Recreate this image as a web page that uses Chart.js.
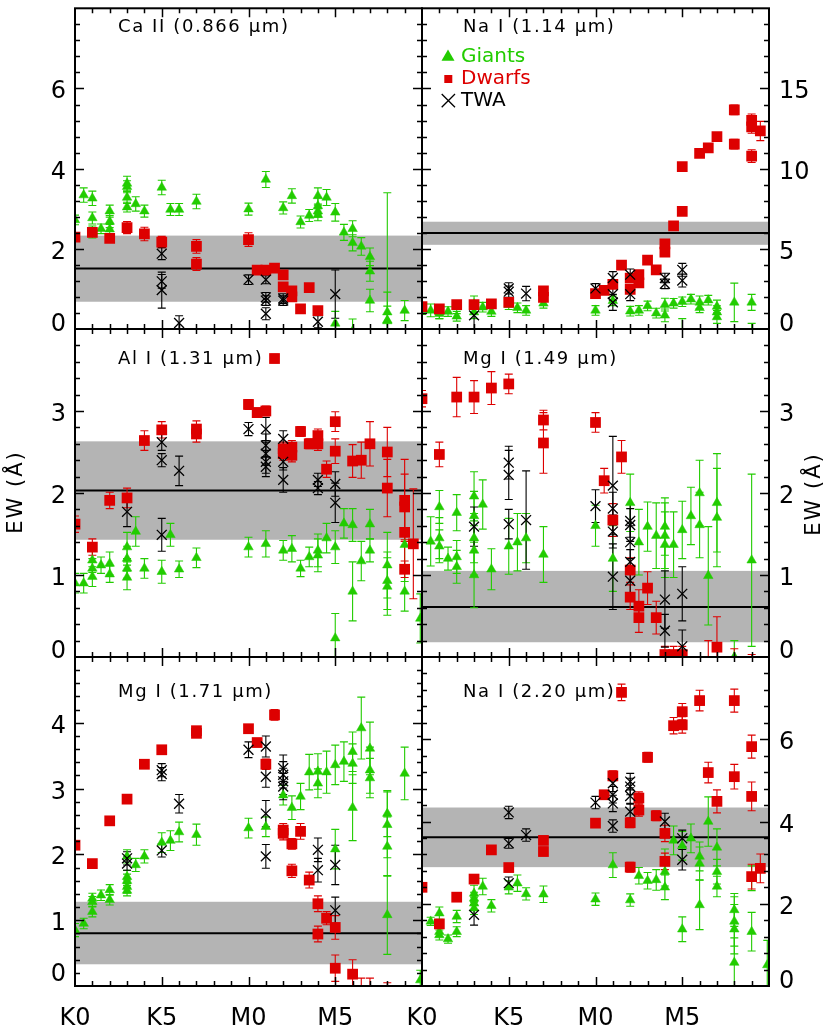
<!DOCTYPE html>
<html><head><meta charset="utf-8">
<script src="https://cdn.jsdelivr.net/npm/chart.js@4/dist/chart.umd.min.js"></script>
<style>
html,body{margin:0;padding:0;background:#fff}
#wrap{position:relative;width:830px;height:1026px;overflow:hidden}
#wrap canvas{position:absolute;left:0;top:0}
</style>
</head><body>
<div id="wrap"></div>
<script>
// ---------- data: [spectral type index (K0=0, K5=5, M0=10, M5=15), EW (Å), error] ----------
const xTickValues = [0, 5, 10, 15];
const xTickLabels = ['K0', 'K5', 'M0', 'M5'];

// Ca II 0.866
const caGiants = [[0,2.72,0.12],[0.5,3.34,0.18],[1,3.26,0.18],[1,2.77,0.15],[1,2.42,0.15],[1.5,2.5,0.12],[2,2.94,0.15],[2,2.68,0.15],[2,2.49,0.12],[3,3.63,0.18],[3,3.55,0.15],[3,3.28,0.15],[3,3.04,0.12],[3.5,3.12,0.18],[4,2.94,0.15],[5,3.53,0.18],[5.5,2.98,0.15],[6,2.98,0.15],[7,3.18,0.18],[10,2.99,0.15],[11,3.73,0.2],[12,3.02,0.15],[12.5,3.32,0.18],[13,2.67,0.15],[13.5,2.83,0.15],[14,3.32,0.2],[14,3.07,0.2],[14,2.94,0.15],[14,2.85,0.15],[14.5,3.28,0.2],[15,2.91,0.22],[15.5,2.41,0.2],[16,2.5,0.2],[16,2.15,0.2],[16.5,2.06,0.22],[17,1.8,0.22],[17,1.44,0.25],[17,0.71,0.28],[15,0.14,0.3],[16,-0.05,0.3],[18,0.42,0.5],[18,0.22,0.35],[18,0.2,3.2],[19,0.46,0.25]];
const caDwarfs = [[0,2.29,0.1],[1,2.41,0.1],[2,2.26,0.1],[3,2.53,0.15],[4,2.37,0.17],[5,2.17,0.14],[7,2.06,0.17],[7,1.62,0.16],[10,2.23,0.17],[10.5,1.47,0.1],[11,1.47,0.1],[11.5,1.52,0.1],[12,1.35,0.1],[12,1.05,0.1],[12.5,0.95,0.1],[12.5,0.8,0.1],[13,0.5,0.1],[13.5,1.03,0.08],[14,0.46,0.1]];
const caTWA = [[5,1.88,0.15],[5,1.19,0.17],[5,0.97,0.45],[6,0.15,0.18],[10,1.23,0.12],[11,1.23,0.1],[11,0.79,0.12],[11,0.71,0.12],[11,0.38,0.15],[12,0.76,0.12],[12,0.71,0.12],[14,0.18,0.15],[15,0.87,0.6]];
const caBand = [0.68, 1.51, 2.33];

// Na I 1.14
const na1Giants = [[0,1.2,0.3],[0.5,1.16,0.4],[1,1.05,0.4],[1,0.95,0.3],[1.5,1.09,0.3],[2,1.36,0.4],[2,0.79,0.3],[3,1.56,0.5],[3,1.05,0.4],[3.5,1.36,0.3],[4,1.09,0.3],[5,1.52,0.3],[5.5,1.32,0.3],[6,1.16,0.3],[7,1.6,0.3],[10,1.16,0.3],[11,1.76,0.3],[12,1.11,0.3],[12.5,1.16,0.3],[13,1.44,0.3],[13.5,0.99,0.3],[14,1.52,0.4],[14,0.85,0.4],[14.5,1.6,0.3],[15,1.7,0.3],[15.5,1.86,0.3],[16,1.66,0.4],[16,1.32,0.3],[16.5,1.8,0.3],[17,1.4,0.4],[17,1.05,0.4],[17,0.75,0.4],[18,1.66,1.2],[19,1.66,0.5],[15,-0.4,1.05],[19,-0.3,0.65]];
const na1Dwarfs = [[0,1.4,0.2],[1,1.26,0.2],[2,1.52,0.2],[3,1.52,0.2],[4,1.56,0.2],[5,1.66,0.2],[7,2.37,0.25],[7,1.97,0.25],[10,2.21,0.2],[10.5,2.41,0.2],[11,2.78,0.25],[11.5,3.99,0.2],[12,3.18,0.2],[12,2.47,0.2],[12.5,3.39,0.2],[12.5,2.88,0.2],[13,4.3,0.2],[13.5,3.69,0.2],[14,5.31,0.25],[14,4.8,0.25],[14.5,6.43,0.2],[15,7.34,0.2],[15,10.12,0.2],[16,10.95,0.25],[16.5,11.29,0.25],[17,12.0,0.25],[18,13.66,0.3],[18,11.53,0.3],[19,13.01,0.4],[19,12.61,0.4],[19,10.78,0.4],[19.5,12.35,0.6]];
const na1TWA = [[3,0.85,0.9],[5,2.53,0.35],[5,2.33,0.35],[6,2.21,0.45],[10,2.53,0.3],[11,3.18,0.4],[11,2.17,0.4],[11,1.66,0.5],[12,3.39,0.35],[12,2.17,0.4],[14,3.18,0.3],[14,2.82,0.3],[15,3.69,0.4],[15,3.02,0.4]];
const na1Band = [5.25, 5.98, 6.69];

// Al I 1.31
const alGiants = [[0,0.9,0.12],[0.5,0.9,0.12],[1,1.18,0.15],[1,1.08,0.12],[1,0.98,0.12],[1.5,1.12,0.1],[2,1.14,0.14],[2,1.01,0.1],[3,1.34,0.18],[3,1.2,0.15],[3,1.08,0.12],[3,0.97,0.15],[3.5,1.53,0.18],[4,1.08,0.12],[5,1.04,0.14],[5.5,1.49,0.14],[6,1.07,0.1],[7,1.21,0.12],[10,1.34,0.12],[11,1.38,0.16],[12,1.3,0.12],[12.5,1.32,0.16],[13,1.08,0.1],[13.5,1.22,0.12],[14,1.3,0.2],[14,1.24,0.2],[14.5,1.45,0.18],[15,1.34,0.2],[15,0.23,0.3],[15.5,1.63,0.18],[16,1.61,0.2],[16,0.8,0.36],[16.5,1.17,0.24],[17,1.62,0.18],[17,1.3,0.14],[18,1.12,0.4],[18,0.93,0.35],[18,0.86,0.35],[19,1.37,0.45],[19,0.8,0.24],[19.9,0.47,0.3]];
const alDwarfs = [[0,1.62,0.1],[1,1.34,0.1],[2,1.91,0.1],[3,1.94,0.12],[4,2.64,0.12],[5,2.77,0.1],[7,2.78,0.1],[7,2.72,0.1],[10,3.08,0.06],[10.5,2.98,0.06],[11,3.0,0.06],[11.5,3.64,0.05],[12,2.54,0.08],[12,2.48,0.08],[12.5,2.56,0.08],[12.5,2.46,0.08],[13,2.75,0.06],[13.5,2.6,0.06],[14,2.7,0.08],[14,2.6,0.08],[14.5,2.29,0.1],[15,2.87,0.12],[15,2.51,0.15],[16,2.39,0.2],[16.5,2.4,0.22],[17,2.6,0.27],[18,2.5,0.3],[18,2.06,0.35],[19,1.91,0.5],[19,1.83,0.4],[19,1.52,0.4],[19,1.07,0.1],[19.5,1.38,0.67]];
const alTWA = [[3,1.77,0.18],[5,2.62,0.1],[5,2.4,0.08],[5,1.49,0.2],[6,2.27,0.18],[10,2.78,0.08],[11,2.78,0.14],[11,2.58,0.14],[11,2.48,0.14],[11,2.38,0.14],[11,2.32,0.12],[12,2.66,0.1],[12,2.38,0.1],[12,2.16,0.15],[14,2.16,0.08],[14,2.06,0.08],[15,2.11,0.15],[15,1.88,0.24]];
const alBand = [1.43, 2.03, 2.63];

// Mg I 1.49
const mg1Giants = [[0.5,1.41,0.3],[1,1.83,0.2],[1,1.45,0.25],[1,1.35,0.2],[1.5,1.2,0.14],[2,1.76,0.22],[2,1.22,0.2],[2,1.1,0.2],[3,1.96,0.3],[3,1.72,0.3],[3,1.45,0.3],[3,1.3,0.3],[3,1.0,0.4],[3.5,1.86,0.3],[4,1.07,0.25],[5,1.35,0.34],[5.5,1.4,0.35],[6,1.45,0.3],[7,1.25,0.34],[10,1.6,0.25],[11,1.2,0.4],[12,1.88,0.35],[12.5,1.4,0.4],[13,1.59,0.3],[13.5,1.48,0.4],[14,1.59,0.35],[14,1.48,0.4],[14,1.37,0.4],[14.5,1.37,0.4],[15,1.55,0.35],[15.5,1.72,0.35],[16,2.0,0.4],[16,1.61,0.4],[16.5,0.99,0.6],[17,1.88,0.6],[17,1.7,0.6],[19,1.18,1.05],[18,0.0,0.2]];
const mg1Dwarfs = [[0,3.15,0.1],[1,2.47,0.15],[2,3.17,0.24],[3,3.17,0.2],[4,3.28,0.2],[5,3.33,0.12],[7,2.89,0.12],[7,2.61,0.37],[10,2.86,0.12],[10.5,2.15,0.15],[11,1.67,0.2],[11.5,2.44,0.2],[12,1.06,0.15],[12,0.73,0.15],[12.5,0.62,0.2],[12.5,0.48,0.18],[13,0.84,0.2],[13.5,0.48,0.2],[14,0.03,0.1],[14.5,0.03,0.1],[15,0.03,0.1],[17,0.12,0.37],[16.5,-0.1,0.3],[18,-0.1,0.2],[19,-0.1,0.13]];
const mg1TWA = [[3,1.59,0.24],[5,2.37,0.2],[5,2.22,0.3],[5,1.62,0.18],[6,1.67,0.6],[10,1.84,0.2],[11,2.09,0.6],[11,1.81,0.2],[11,1.53,0.2],[11,0.98,0.4],[12,1.66,0.2],[12,1.61,0.2],[12,1.4,0.2],[12,1.16,0.15],[12,0.93,0.15],[14,0.7,0.35],[14,0.32,0.2],[15,0.77,0.33],[15,0.13,0.2]];
const mg1Band = [0.18, 0.61, 1.05];

// Mg I 1.71
const mg2Giants = [[0,0.85,0.1],[0.5,0.95,0.08],[1,1.13,0.08],[1,1.28,0.08],[1,1.33,0.08],[1.5,1.38,0.08],[2,1.46,0.08],[2,1.31,0.08],[3,1.97,0.1],[3,1.66,0.1],[3,1.6,0.1],[3,1.51,0.1],[3,1.45,0.08],[3.5,1.84,0.1],[4,1.97,0.1],[5,2.18,0.15],[5.5,2.21,0.15],[6,2.34,0.15],[7,2.3,0.16],[10,2.4,0.15],[11,2.42,0.15],[12,2.9,0.15],[12.5,2.71,0.18],[13,2.88,0.2],[13.5,3.25,0.27],[14,3.26,0.27],[14,3.08,0.22],[14.5,3.25,0.32],[15,3.36,0.3],[15,2.08,0.3],[15.5,3.41,0.3],[16,3.56,0.3],[16,3.38,0.3],[16,2.71,0.5],[16.5,3.92,0.47],[17,3.61,0.4],[17,3.28,0.35],[17,3.16,0.3],[18,2.62,0.35],[18,2.45,0.5],[18,2.12,0.45],[18,1.08,0.6],[19,3.23,0.4],[19.9,0.09,0.15]];
const mg2Dwarfs = [[0,2.14,0.05],[1,1.86,0.05],[2,2.51,0.05],[3,2.84,0.05],[4,3.37,0.05],[5,3.59,0.05],[7,3.88,0.05],[7,3.84,0.05],[10,3.91,0.05],[10.5,3.7,0.06],[11,3.37,0.08],[11.5,4.12,0.08],[12,2.37,0.1],[12,2.32,0.1],[12.5,2.16,0.08],[12.5,1.75,0.1],[13,2.35,0.12],[13.5,1.61,0.12],[14,1.25,0.12],[14,0.79,0.12],[14.5,1.03,0.1],[15,0.89,0.18],[15,0.27,0.2],[16,0.18,0.22],[16.5,-0.1,0.22],[17,-0.1,0.22],[18,-0.2,0.25]];
const mg2TWA = [[3,1.94,0.1],[3,1.86,0.1],[5,3.28,0.1],[5,3.22,0.1],[5,2.06,0.1],[6,2.77,0.14],[10,3.59,0.12],[11,3.64,0.16],[11,3.18,0.16],[11,2.62,0.2],[11,1.97,0.18],[12,3.31,0.2],[12,3.21,0.2],[12,3.11,0.2],[12,3.03,0.2],[14,2.07,0.18],[14,1.76,0.18],[15,1.84,0.3],[15,1.15,0.2]];
const mg2Band = [0.33, 0.8, 1.28];

// Na I 2.20
const na2Giants = [[0.5,1.57,0.1],[1,1.77,0.15],[1,1.32,0.12],[1,1.24,0.12],[1.5,1.14,0.1],[2,1.69,0.15],[2,1.32,0.12],[3,2.25,0.2],[3,2.13,0.15],[3,2.01,0.15],[3,1.89,0.15],[3.5,2.42,0.2],[4,1.95,0.15],[5,2.4,0.16],[5.5,2.5,0.2],[6,2.24,0.15],[7,2.23,0.2],[10,2.11,0.15],[11,2.94,0.3],[12,2.09,0.15],[12.5,2.68,0.2],[13,2.56,0.2],[13.5,2.58,0.25],[14,3.03,0.3],[14,2.78,0.35],[14,2.4,0.3],[14.5,3.54,0.35],[15,3.41,0.35],[15,1.38,0.3],[15.5,3.59,0.35],[16,3.15,0.35],[16,2.98,0.4],[16,1.97,0.6],[16.5,4.0,0.6],[17,3.37,0.45],[17,2.78,0.3],[17,2.42,0.25],[18,1.85,0.4],[18,1.57,0.6],[18,1.38,0.6],[18,0.57,0.6],[19,2.62,0.3],[19,1.32,0.47],[19.9,0.51,0.6]];
const na2Dwarfs = [[0,2.4,0.1],[1,1.51,0.1],[2,2.16,0.1],[3,2.6,0.1],[4,3.31,0.1],[5,2.88,0.1],[7,3.54,0.1],[7,3.27,0.1],[10,3.96,0.1],[10.5,4.65,0.1],[11,5.11,0.12],[11.5,7.14,0.2],[12,3.97,0.12],[12,2.89,0.12],[12.5,4.57,0.15],[12.5,4.28,0.15],[13,5.56,0.12],[13.5,4.14,0.12],[14,3.71,0.2],[14,3.03,0.2],[14.5,6.33,0.2],[15,6.67,0.2],[15,6.35,0.2],[16,6.94,0.25],[16.5,5.19,0.25],[17,4.49,0.28],[18,6.94,0.28],[18,5.09,0.3],[19,5.82,0.28],[19,4.61,0.35],[19,2.66,0.3],[19.5,2.86,0.35]];
const na2TWA = [[3,1.73,0.25],[5,4.22,0.15],[5,3.47,0.12],[5,2.5,0.15],[6,3.67,0.15],[10,4.46,0.15],[11,4.93,0.2],[11,4.65,0.2],[11,4.44,0.2],[11,3.89,0.15],[12,4.97,0.2],[12,4.85,0.2],[12,4.62,0.2],[12,4.24,0.2],[14,4.0,0.2],[15,3.59,0.2],[15,3.07,0.25]];
const na2Band = [2.89, 3.62, 4.34];

// y tick labels per panel
const caYTicks = [0, 2, 4, 6];
const na1YTicks = [0, 5, 10, 15];
const alYTicks = [0, 1, 2, 3];
const mg1YTicks = [0, 1, 2, 3];
const mg2YTicks = [0, 1, 2, 3, 4];
const na2YTicks = [0, 2, 4, 6];

const legendLabels = ['Giants', 'Dwarfs', 'TWA'];
const yAxisTitle = 'EW (Å)';

// ---------- styling & layout ----------
const GREEN = '#22cc00', RED = '#dd0000', BLACK = '#000000', GRAY = '#b4b4b4';
const FONT = '"DejaVu Sans", sans-serif';
const W = 830, H = 1026;
const colX = [[75, 422], [422, 769]];
const rowY = [[1, 329], [329, 657], [657, 986]];
const titleX = [118, 463];
const titleBase = [32, 364, 697];

const panels = [
  {title:'Ca II (0.866 μm)', g:caGiants, d:caDwarfs, t:caTWA, band:caBand, col:0, row:0, ymax:8, minor:0.4, major:2, yt:caYTicks, zs:-8},
  {title:'Na I (1.14 μm)', g:na1Giants, d:na1Dwarfs, t:na1TWA, band:na1Band, col:1, row:0, ymax:20, minor:1, major:5, yt:na1YTicks, zs:-8, legend:true},
  {title:'Al I (1.31 μm)', g:alGiants, d:alDwarfs, t:alTWA, band:alBand, col:0, row:1, ymax:4, minor:0.2, major:1, yt:alYTicks, zs:-9},
  {title:'Mg I (1.49 μm)', g:mg1Giants, d:mg1Dwarfs, t:mg1TWA, band:mg1Band, col:1, row:1, ymax:4, minor:0.2, major:1, yt:mg1YTicks, zs:-9},
  {title:'Mg I (1.71 μm)', g:mg2Giants, d:mg2Dwarfs, t:mg2TWA, band:mg2Band, col:0, row:2, ymax:5, minor:0.2, major:1, yt:mg2YTicks, zs:-15},
  {title:'Na I (2.20 μm)', g:na2Giants, d:na2Dwarfs, t:na2TWA, band:na2Band, col:1, row:2, ymax:8, minor:0.4, major:2, yt:na2YTicks, zs:-8.5}
];

const toPts = arr => arr.map(p => ({x: p[0], y: p[1], e: p[2]}));

function drawTri(ctx, x, y, r) {
  ctx.beginPath();
  ctx.moveTo(x, y - r);
  ctx.lineTo(x + r * 0.866, y + r * 0.5);
  ctx.lineTo(x - r * 0.866, y + r * 0.5);
  ctx.closePath(); ctx.fill();
}

function makePanel(P, idx) {
  const cv = document.createElement('canvas');
  cv.width = W; cv.height = H;
  cv.style.width = W + 'px'; cv.style.height = H + 'px';
  document.getElementById('wrap').appendChild(cv);
  const [x0, x1] = colX[P.col];
  const [y0, y1] = rowY[P.row];

  const bandPlugin = {
    id: 'band' + idx,
    beforeDatasetsDraw(chart) {
      const {ctx, chartArea: a, scales: {y}} = chart;
      const lo = y.getPixelForValue(P.band[0]), mid = y.getPixelForValue(P.band[1]), hi = y.getPixelForValue(P.band[2]);
      ctx.save();
      ctx.fillStyle = GRAY;
      ctx.fillRect(a.left, hi, a.right - a.left, lo - hi);
      ctx.strokeStyle = BLACK; ctx.lineWidth = 2;
      ctx.beginPath(); ctx.moveTo(a.left, mid); ctx.lineTo(a.right, mid); ctx.stroke();
      ctx.restore();
    }
  };

  const errPlugin = {
    id: 'err' + idx,
    beforeDatasetsDraw(chart) {
      const {ctx, chartArea: a, scales: {x, y}} = chart;
      ctx.save();
      ctx.beginPath(); ctx.rect(a.left, a.top, a.right - a.left, a.bottom - a.top); ctx.clip();
      chart.data.datasets.slice().reverse().forEach(ds => {
        ctx.strokeStyle = ds.borderColor; ctx.lineWidth = 1.1;
        ds.data.forEach(p => {
          const px = x.getPixelForValue(p.x);
          const pa = y.getPixelForValue(p.y - p.e), pb = y.getPixelForValue(p.y + p.e);
          ctx.beginPath();
          ctx.moveTo(px, pa); ctx.lineTo(px, pb);
          ctx.moveTo(px - 4, pa); ctx.lineTo(px + 4, pa);
          ctx.moveTo(px - 4, pb); ctx.lineTo(px + 4, pb);
          ctx.stroke();
        });
      });
      ctx.restore();
    }
  };

  const axesPlugin = {
    id: 'axes' + idx,
    afterDraw(chart) {
      const {ctx, chartArea: a, scales: {x, y}} = chart;
      ctx.save();
      // ticks
      ctx.strokeStyle = BLACK; ctx.lineWidth = 1.5;
      ctx.beginPath();
      for (let i = 1; i < 20; i++) {
        const px = Math.round(x.getPixelForValue(i)) + 0.5;
        const len = (i % 5 === 0) ? 9 : 5;
        ctx.moveTo(px, a.bottom); ctx.lineTo(px, a.bottom - len);
        ctx.moveTo(px, a.top); ctx.lineTo(px, a.top + len);
      }
      const n = Math.round(P.ymax / P.minor);
      for (let i = 1; i < n; i++) {
        const v = i * P.minor;
        const py = Math.round(y.getPixelForValue(v)) + 0.5;
        const isMajor = Math.abs(v / P.major - Math.round(v / P.major)) < 1e-6;
        const len = isMajor ? 9 : 5;
        ctx.moveTo(a.left, py); ctx.lineTo(a.left + len, py);
        ctx.moveTo(a.right, py); ctx.lineTo(a.right - len, py);
      }
      ctx.stroke();
      // frame
      ctx.lineWidth = 2;
      ctx.strokeRect(a.left, a.top, a.right - a.left, a.bottom - a.top);

      // y tick labels
      ctx.fillStyle = BLACK;
      ctx.font = '24px ' + FONT;
      ctx.textBaseline = 'alphabetic';
      P.yt.forEach(v => {
        let py = y.getPixelForValue(v) + 10;
        if (v === 0) py += P.zs;
        if (P.col === 0) { ctx.textAlign = 'right'; ctx.fillText(String(v), 66, py); }
        else { ctx.textAlign = 'left'; ctx.fillText(String(v), 779, py); }
      });
      // x tick labels
      if (P.row === 2) {
        ctx.textAlign = 'center';
        xTickValues.forEach((v, i) => ctx.fillText(xTickLabels[i], x.getPixelForValue(v), 1025));
      }
      // panel title
      ctx.textAlign = 'left';
      ctx.font = '18px ' + FONT;
      try { ctx.letterSpacing = '1.6px'; } catch (e) {}
      ctx.fillText(P.title, titleX[P.col], titleBase[P.row]);
      try { ctx.letterSpacing = '0px'; } catch (e) {}

      // y axis titles (middle row)
      if (P.row === 1) {
        ctx.save();
        ctx.font = '21px ' + FONT;
        try { ctx.letterSpacing = '2px'; } catch (e) {}
        ctx.textAlign = 'center';
        if (P.col === 0) { ctx.translate(22, 492); }
        else { ctx.translate(820, 494); }
        ctx.rotate(-Math.PI / 2);
        ctx.fillText(yAxisTitle, 0, 0);
        ctx.restore();
      }

      // legend
      if (P.legend) {
        ctx.font = '20px ' + FONT;
        ctx.textAlign = 'left';
        ctx.fillStyle = GREEN;
        drawTri(ctx, 448, 57, 7.5);
        ctx.fillText(legendLabels[0], 461, 62);
        ctx.fillStyle = RED;
        ctx.fillRect(444.3, 75, 8, 8);
        ctx.fillText(legendLabels[1], 461, 84);
        ctx.fillStyle = BLACK;
        ctx.strokeStyle = BLACK; ctx.lineWidth = 1.3;
        ctx.beginPath();
        ctx.moveTo(441.7, 94); ctx.lineTo(455, 107.3);
        ctx.moveTo(455, 94); ctx.lineTo(441.7, 107.3);
        ctx.stroke();
        ctx.fillText(legendLabels[2], 461, 106);
      }
      ctx.restore();
    }
  };

  new Chart(cv, {
    type: 'scatter',
    data: {
      datasets: [
        {label: legendLabels[2], data: toPts(P.t), pointStyle: 'crossRot', pointRadius: 7, pointBorderWidth: 1.3,
         borderColor: BLACK, backgroundColor: BLACK, clip: 0},
        {label: legendLabels[1], data: toPts(P.d), pointStyle: 'rect', pointRadius: 7.6, pointBorderWidth: 0,
         borderColor: RED, backgroundColor: RED, clip: 0},
        {label: legendLabels[0], data: toPts(P.g), pointStyle: 'triangle', pointRadius: 5.5, pointBorderWidth: 0.5,
         borderColor: GREEN, backgroundColor: GREEN, clip: 0}
      ]
    },
    options: {
      responsive: false, animation: false, devicePixelRatio: 1, events: [],
      layout: {padding: {left: x0, right: W - x1, top: y0, bottom: H - y1}},
      scales: {
        x: {type: 'linear', min: 0, max: 20, display: false},
        y: {type: 'linear', min: 0, max: P.ymax, display: false}
      },
      plugins: {legend: {display: false}, tooltip: {enabled: false}, title: {display: false}}
    },
    plugins: [bandPlugin, errPlugin, axesPlugin]
  });
}

panels.forEach(makePanel);
</script>
</body></html>
